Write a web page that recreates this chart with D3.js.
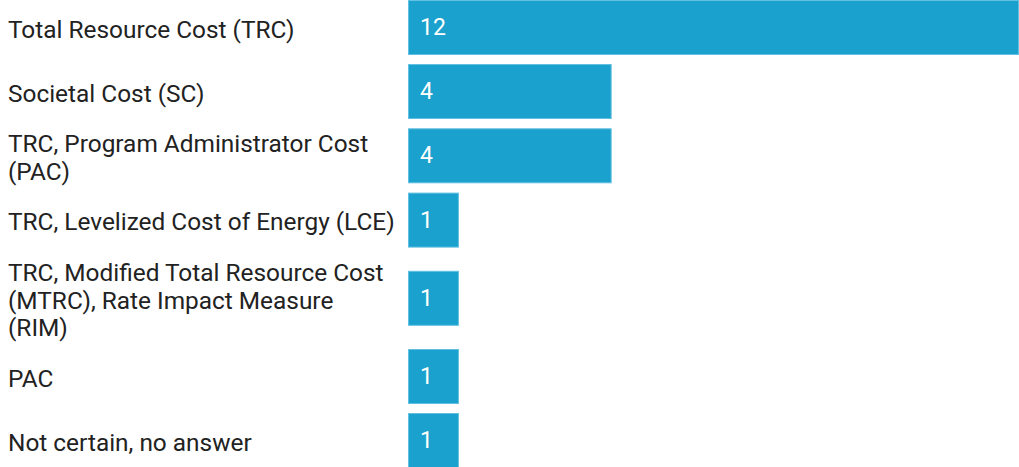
<!DOCTYPE html>
<html lang="en">
<head>
    <meta charset="UTF-8">
    <title>Cost test</title>
    <script src="https://d3js.org/d3.v7.min.js"></script>
    <style>
        body { margin: 0; background: #fff; }
        text { font-family: Roboto, "Noto Sans", sans-serif; }
    </style>
</head>
<body>
<div id="main"></div>
<script>
    // categories (line breaks as in the picture) and counts
    const categories = [
        "Total Resource Cost (TRC)",
        "Societal Cost (SC)",
        "TRC, Program Administrator Cost\n(PAC)",
        "TRC, Levelized Cost of Energy (LCE)",
        "TRC, Modified Total Resource Cost\n(MTRC), Rate Impact Measure\n(RIM)",
        "PAC",
        "Not certain, no answer"
    ]
    const counts = [12, 4, 4, 1, 1, 1, 1]

    let width = 1019,
        height = 467

    let barLeft = 408,
        barH = 55,
        gap = 9,
        lineH = 27.8,
        fontSize = 24.4,
        valueSize = 23

    let svg = d3.select("#main")
        .append("svg")
        .attr("width", width)
        .attr("height", height)

    let XScale = d3.scaleLinear()
        .domain([0, 12])
        .range([barLeft, width])

    // each row is as tall as its bar or its label, whichever is bigger
    let rows = []
    let y = 0
    categories.forEach(function (c, i) {
        let lines = c.split("\n")
        let h = Math.max(barH, lines.length * lineH)
        rows.push({name: c, lines: lines, value: counts[i], top: y, h: h})
        y += h + gap
    })

    let YScale = d3.scaleOrdinal()
        .domain(categories)
        .range(rows.map(r => r.top + r.h / 2))

    let row = svg.append("g").selectAll("g")
        .data(rows)
        .enter()
        .append("g")
        .attr("transform", d => `translate(0, ${YScale(d.name)})`)

    row.append("rect")
        .attr("x", XScale(0) + 0.5)
        .attr("y", -barH / 2 + 0.5)
        .attr("width", d => XScale(d.value) - XScale(0) - 1)
        .attr("height", barH - 1)
        .attr("fill", "#1aa1cd")
        .attr("stroke", "#62c0e2")
        .attr("stroke-width", 1)

    row.append("text")
        .attr("x", XScale(0) + 12)
        .attr("y", 0)
        .attr("dy", "0.33em")
        .attr("fill", "#fff")
        .style("font-size", valueSize + "px")
        .text(d => d.value)

    row.append("text")
        .attr("x", 8)
        .style("font-size", fontSize + "px")
        .attr("fill", "#222")
        .selectAll("tspan")
        .data(d => d.lines.map((l, i) => ({l: l, i: i, n: d.lines.length})))
        .enter()
        .append("tspan")
        .attr("x", 8)
        .attr("y", d => (d.i - (d.n - 1) / 2) * lineH)
        .attr("dy", "0.42em")
        .text(d => d.l)
</script>
</body>
</html>
